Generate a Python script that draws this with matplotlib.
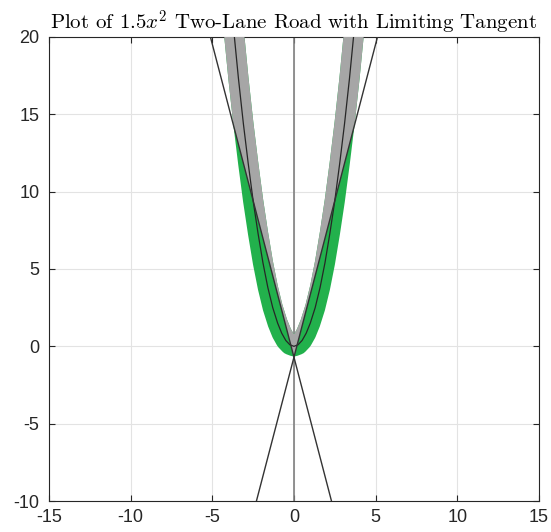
import numpy as np
import matplotlib
matplotlib.use('Agg')
import matplotlib.pyplot as plt
from matplotlib.patches import Polygon

plt.rcParams['mathtext.fontset'] = 'cm'
plt.rcParams['axes.unicode_minus'] = False

# road centre line (y = 1.5 x^2)
road_x = [-3.75, -3.65, -3.4, -3.1, -2.8, -2.5, -2.2, -1.9, -1.6, -1.3, -1.0, -0.75, -0.5, -0.25, 0.0,
          0.25, 0.5, 0.75, 1.0, 1.3, 1.6, 1.9, 2.2, 2.5, 2.8, 3.1, 3.4, 3.65, 3.75]
road_y = [21.1, 20.0, 17.3, 14.4, 11.8, 9.4, 7.3, 5.4, 3.8, 2.5, 1.5, 0.85, 0.38, 0.1, 0.0,
          0.1, 0.38, 0.85, 1.5, 2.5, 3.8, 5.4, 7.3, 9.4, 11.8, 14.4, 17.3, 20.0, 21.1]

# limiting tangent lines (end points)
tan_left_x = [-5.12, 2.3]
tan_left_y = [20, -10]
tan_right_x = [5.12, -2.3]
tan_right_y = [20, -10]

x_ticks = [-15, -10, -5, 0, 5, 10, 15]
y_ticks = [-10, -5, 0, 5, 10, 15, 20]

fig = plt.figure(figsize=(5.51, 5.32), dpi=100)
ax = fig.add_axes([0.089, 0.058, 0.889, 0.873])

# green road (part outside the tangent wedge)
ax.plot(road_x, road_y, color='#22b14c', linewidth=14.5, solid_capstyle='butt', zorder=2)

# gray road inside the wedge between the tangents
wedge = Polygon([(tan_left_x[0], tan_left_y[0]), (tan_left_x[1], tan_left_y[1]),
                 (tan_right_x[1], tan_right_y[1]), (tan_right_x[0], tan_right_y[0])],
                closed=True, transform=ax.transData, facecolor='none', edgecolor='none')
ax.add_patch(wedge)
gray, = ax.plot(road_x, road_y, color='#a6a6a6', linewidth=14.5, solid_capstyle='butt', zorder=3)
gray.set_clip_path(wedge)

# centre line and tangents
ax.plot(road_x, road_y, color='#262626', linewidth=0.9, zorder=4)
ax.plot(tan_left_x, tan_left_y, color='#333333', linewidth=1.0, zorder=4)
ax.plot(tan_right_x, tan_right_y, color='#333333', linewidth=1.0, zorder=4)
ax.axvline(0, color='#808080', linewidth=1.2, zorder=1.5)

ax.set_xlim(-15, 15)
ax.set_ylim(-10, 20)
ax.set_xticks(x_ticks)
ax.set_yticks(y_ticks)
ax.set_xticklabels([str(t) for t in x_ticks], fontfamily='Liberation Sans', fontsize=13)
ax.set_yticklabels([str(t) for t in y_ticks], fontfamily='Liberation Sans', fontsize=13)
ax.tick_params(direction='in', length=4, color='#262626', labelcolor='#262626', top=True, right=True)
ax.tick_params(axis='x', pad=6)
ax.tick_params(axis='y', pad=7)
ax.grid(True, color='#e3e3e3', linewidth=0.8, zorder=0)
ax.set_axisbelow(True)
for s in ax.spines.values():
    s.set_color('#262626')
    s.set_linewidth(0.8)

ax.set_title('Plot of $1.5x^2$ Two-Lane Road with Limiting Tangent', fontfamily='cmr10',
             fontsize=15, pad=5)

fig.savefig('out.png', dpi=100)
